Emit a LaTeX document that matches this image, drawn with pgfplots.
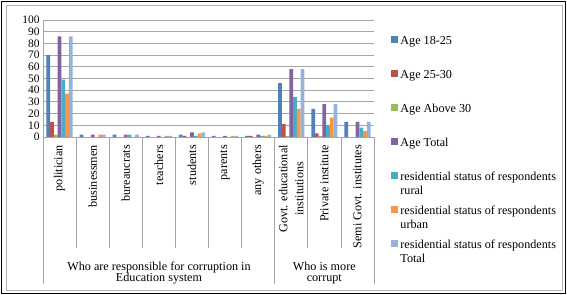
\documentclass[border=0pt]{standalone}
\usepackage{pgfplots}
\pgfplotsset{compat=1.18}
\usepackage{fontspec}
\setmainfont{Liberation Serif}
\definecolor{c1}{HTML}{4F81BD}
\definecolor{c2}{HTML}{C0504D}
\definecolor{c3}{HTML}{9BBB59}
\definecolor{c4}{HTML}{8064A2}
\definecolor{c5}{HTML}{4BACC6}
\definecolor{c6}{HTML}{F79646}
\definecolor{c7}{HTML}{95B3D7}
\definecolor{gridgray}{HTML}{A6A6A6}
\pgfplotsset{leg/.style={legend image code/.code={\fill[##1] (0bp,4.6bp) rectangle (6.7bp,11.3bp);}}}
\begin{document}
\begin{tikzpicture}
\path[use as bounding box] (0,0) rectangle (567bp,295bp);
\draw[line width=1.2bp] (1.5bp,1.5bp) rectangle (565.5bp,293.5bp);
\draw[gray!60, line width=0.6bp] (6bp,5bp) rectangle (562bp,290bp);
\begin{axis}[at={(43bp,158bp)}, anchor=south west, scale only axis,
  width=331bp, height=117bp,
  xmin=-0.5, xmax=9.5, ymin=0, ymax=100, ytick={0,10,...,100},
  ymajorgrids, grid style={draw=gridgray, line width=0.8bp},
  axis x line*=bottom, axis y line*=left,
  axis line style={draw=gridgray, line width=0.8bp, -},
  ybar=0pt, bar width=0.113,
  xtick={0,...,9},
  xticklabels={politician, businessmen, bureaucrats, teachers, students, parents, any others, {Govt. educational\\institutions}, Private institute, Semi Govt. institutes},
  xticklabel style={yshift=-8bp, rotate=90, anchor=east, align=center, inner sep=0pt, font=\fontsize{12.2}{16}\selectfont},
  major tick length=0pt,
  yticklabel style={font=\fontsize{11.5}{12}\selectfont},
  /pgf/number format/assume math mode=true,
  legend style={at={(1.0514,0.8778)}, anchor=north west, draw=none, fill=none,
    inner sep=0pt, outer sep=0pt, row sep=8.3bp, column sep=2.7bp,
    font=\fontsize{12.2}{14.3}\selectfont, nodes={inner sep=0pt, outer sep=0pt, align=left}},
  legend cell align=left,
]
\addplot[fill=c1, draw=none, leg] coordinates {(0,70) (1,2) (2,2) (3,1) (4,2) (5,1) (6,1) (7,46) (8,24) (9,13)};
\addplot[fill=c2, draw=none, leg] coordinates {(0,13) (1,0) (2,0) (3,0) (4,1) (5,0) (6,1) (7,11) (8,3) (9,0)};
\addplot[fill=c3, draw=none, leg] coordinates {(0,2) (1,0) (2,0) (3,0) (4,0) (5,0) (6,0) (7,1) (8,1) (9,0)};
\addplot[fill=c4, draw=none, leg] coordinates {(0,86) (1,2) (2,2) (3,1) (4,4) (5,1) (6,2) (7,58) (8,28) (9,13)};
\addplot[fill=c5, draw=none, leg] coordinates {(0,49) (1,0) (2,2) (3,0) (4,1) (5,0) (6,1) (7,34) (8,10) (9,8)};
\addplot[fill=c6, draw=none, leg] coordinates {(0,37) (1,2) (2,0) (3,1) (4,3) (5,1) (6,1) (7,24) (8,16.5) (9,5)};
\addplot[fill=c7, draw=none, leg] coordinates {(0,86) (1,2) (2,2) (3,1) (4,4) (5,1) (6,2) (7,58) (8,28) (9,13)};
\legend{{\strut Age 18-25\\\strut}, {\strut Age 25-30\\\strut}, {\strut Age Above 30\\\strut}, {\strut Age Total\\\strut},
  {\strut residential status of respondents\\\strut rural}, {\strut residential status of respondents\\\strut urban}, {\strut residential status of respondents\\\strut Total}}
\end{axis}
\begin{scope}[gridgray, line width=0.8bp]
\foreach \x in {76.1,109.2,142.3,175.4,208.5,241.6,307.8,340.9}{\draw (\x bp,158bp) -- (\x bp,47bp);}
\foreach \x in {43,274.7,374}{\draw (\x bp,158bp) -- (\x bp,11bp);}
\end{scope}
\node[align=center, font=\fontsize{12.2}{11.7}\selectfont, inner sep=0pt] at (159bp,22bp) {Who are responsible for corruption in\\Education system};
\node[align=center, font=\fontsize{12.2}{11.7}\selectfont, inner sep=0pt] at (324.3bp,22bp) {Who is more\\corrupt};
\end{tikzpicture}
\end{document}
